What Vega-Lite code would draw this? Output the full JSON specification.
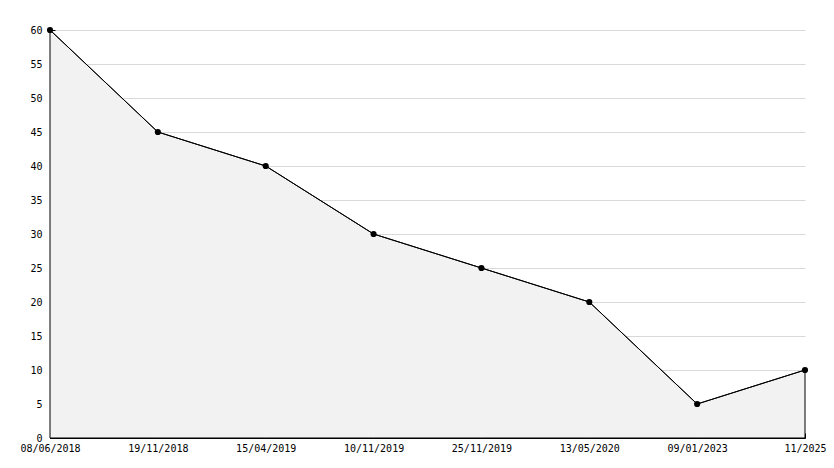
{
  "$schema": "https://vega.github.io/schema/vega-lite/v6.json",
  "width": 755,
  "height": 408,
  "autosize": {"type": "none"},
  "padding": {"left": 50, "top": 30, "right": 29, "bottom": 30},
  "background": "white",
  "config": {
    "view": {"stroke": null},
    "font": "DejaVu Sans Mono",
    "axis": {"labelFont": "DejaVu Sans Mono", "labelFontSize": 10, "labelColor": "black", "domainColor": "black", "tickColor": "black", "title": null}
  },
  "data": {
    "values": [
      {"date": "08/06/2018", "value": 60},
      {"date": "19/11/2018", "value": 45},
      {"date": "15/04/2019", "value": 40},
      {"date": "10/11/2019", "value": 30},
      {"date": "25/11/2019", "value": 25},
      {"date": "13/05/2020", "value": 20},
      {"date": "09/01/2023", "value": 5},
      {"date": "11/2025", "value": 10}
    ]
  },
  "encoding": {
    "x": {
      "field": "date", "type": "nominal", "sort": null,
      "scale": {"type": "point", "padding": 0},
      "axis": {"labelAngle": 0, "tickSize": -5, "labelPadding": 10, "domainWidth": 1, "grid": false}
    },
    "y": {
      "field": "value", "type": "quantitative",
      "scale": {"domain": [0, 60], "nice": false, "zero": true},
      "axis": {
        "values": [0,1,2,3,4,5,6,7,8,9,10,11,12,13,14,15,16,17,18,19,20,21,22,23,24,25,26,27,28,29,30,31,32,33,34,35,36,37,38,39,40,41,42,43,44,45,46,47,48,49,50,51,52,53,54,55,56,57,58,59,60],
        "labelExpr": "datum.value % 5 === 0 ? datum.label : ''",
        "grid": true,
        "gridColor": "#d9d9d9",
        "gridOpacity": {"expr": "datum.value % 5 === 0 ? 1 : 0"},
        "tickSize": {"expr": "datum.value % 5 === 0 ? -5 : -4"},
        "labelPadding": 13,
        "labelBaseline": "middle"
      }
    }
  },
  "layer": [
    {"mark": {"type": "area", "color": "#f2f2f2", "stroke": "black", "strokeWidth": 1}},
    {"mark": {"type": "line", "color": "black", "strokeWidth": 1}},
    {"mark": {"type": "point", "shape": "circle", "filled": true, "color": "black", "size": 38, "opacity": 1}}
  ]
}
